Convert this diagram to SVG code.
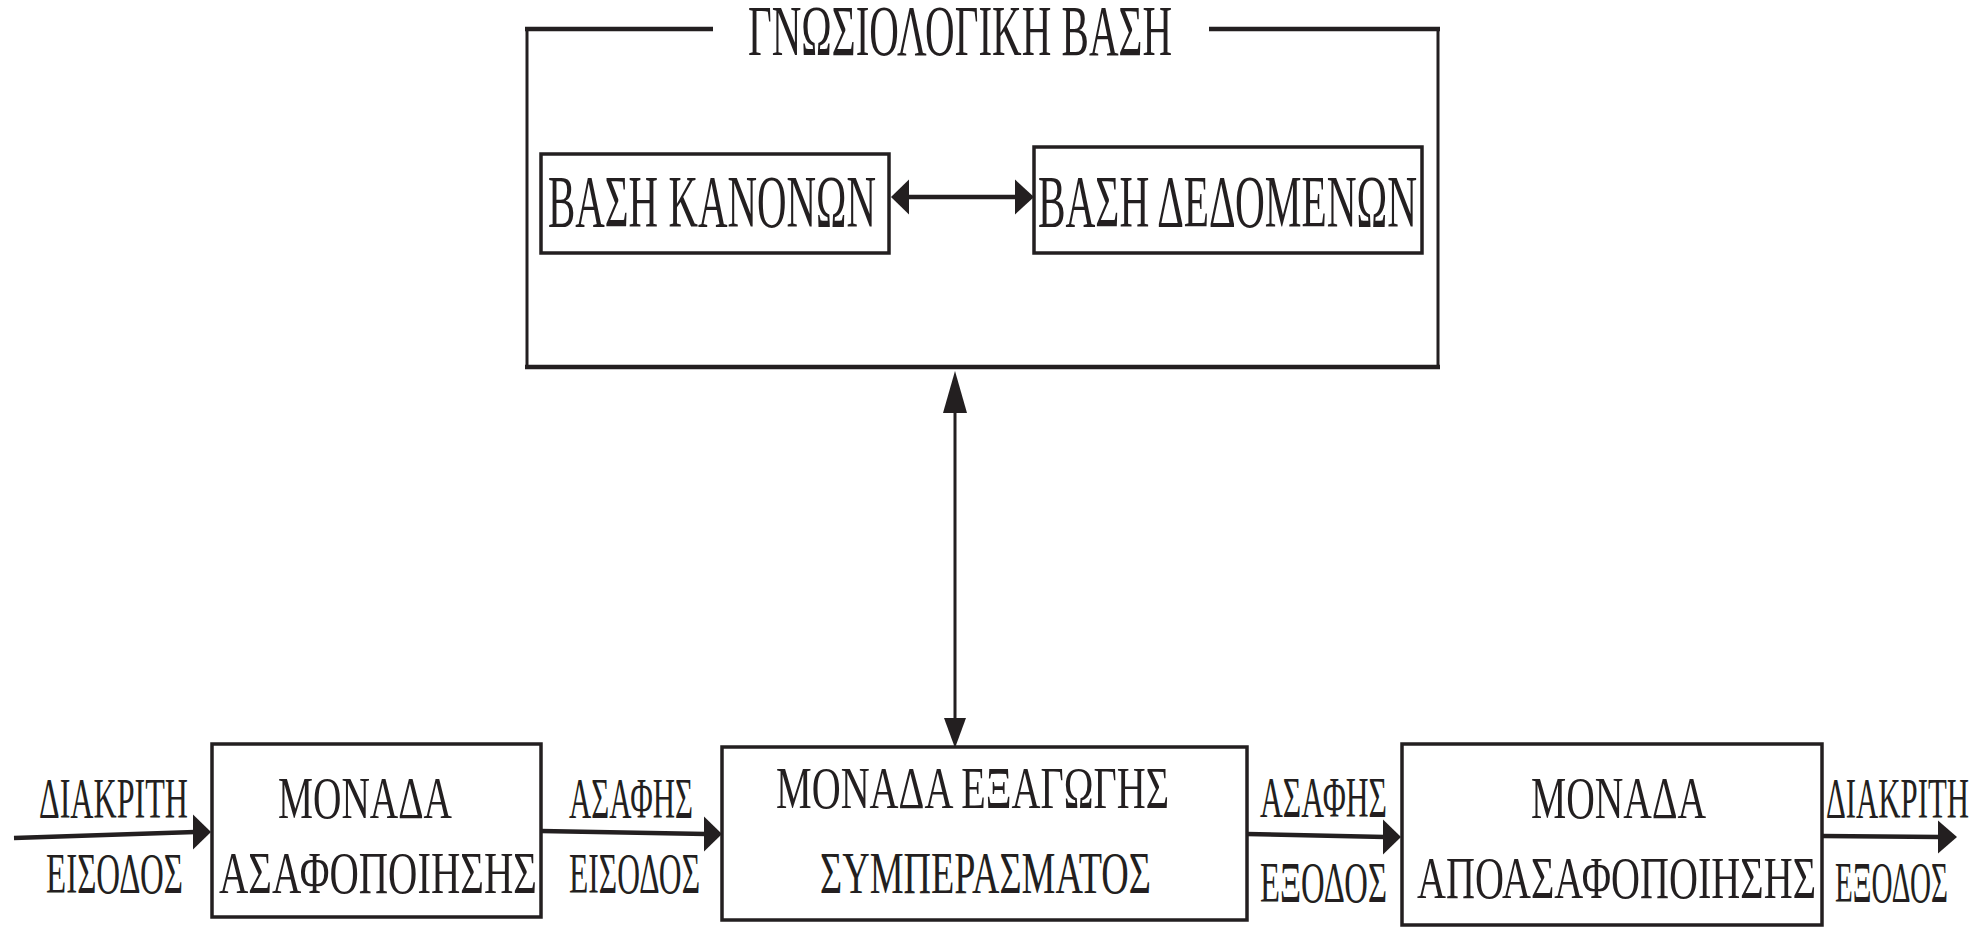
<svg xmlns="http://www.w3.org/2000/svg" width="1988" height="928" viewBox="0 0 1988 928">
<style>
.bg{fill:#ffffff}
.box{fill:none;stroke:#231f20;stroke-width:3.5}
.ln{fill:none;stroke:#231f20;stroke-width:4.5;stroke-linecap:butt}
.vl{fill:none;stroke:#231f20;stroke-width:3}
.hd{fill:#231f20;stroke:none}
text{font-family:"Liberation Serif","DejaVu Serif",serif;fill:#231f20}
.t1{font-size:72px}
.t2{font-size:75px}
.t3{font-size:59px}
.t4{font-size:56px}
</style>
<rect class="bg" x="0" y="0" width="1988" height="928"/>
<g id="knowledge-base">
<path class="vl" d="M527,29 V368 M1438,29 V368"/>
<path class="ln" d="M713,29 H525 M1209,29 H1440 M525,367 H1440"/>
<text class="t1" x="748" y="55" textLength="424" lengthAdjust="spacingAndGlyphs">ΓΝΩΣΙΟΛΟΓΙΚΗ  ΒΑΣΗ</text>
</g>
<g id="rule-base">
<rect class="box" x="541" y="154" width="348" height="99"/>
<text class="t2" x="548" y="227" textLength="328" lengthAdjust="spacingAndGlyphs">ΒΑΣΗ  ΚΑΝΟΝΩΝ</text>
</g>
<g id="data-base">
<rect class="box" x="1034" y="147" width="388" height="106"/>
<text class="t2" x="1038" y="227" textLength="379" lengthAdjust="spacingAndGlyphs">ΒΑΣΗ  ΔΕΔΟΜΕΝΩΝ</text>
</g>
<g id="fuzzification">
<rect class="box" x="212" y="744" width="329" height="173"/>
<text class="t3" x="278" y="818" textLength="174" lengthAdjust="spacingAndGlyphs">ΜΟΝΑΔΑ</text>
<text class="t3" x="219" y="893" textLength="318" lengthAdjust="spacingAndGlyphs">ΑΣΑΦΟΠΟΙΗΣΗΣ</text>
</g>
<g id="inference">
<rect class="box" x="722" y="747" width="525" height="173"/>
<text class="t3" x="776" y="808" textLength="393" lengthAdjust="spacingAndGlyphs">ΜΟΝΑΔΑ ΕΞΑΓΩΓΗΣ</text>
<text class="t3" x="820" y="893" textLength="331" lengthAdjust="spacingAndGlyphs">ΣΥΜΠΕΡΑΣΜΑΤΟΣ</text>
</g>
<g id="defuzzification">
<rect class="box" x="1402" y="744" width="420" height="181"/>
<text class="t3" x="1531" y="818" textLength="175" lengthAdjust="spacingAndGlyphs">ΜΟΝΑΔΑ</text>
<text class="t3" x="1417" y="898" textLength="399" lengthAdjust="spacingAndGlyphs">ΑΠΟΑΣΑΦΟΠΟΙΗΣΗΣ</text>
</g>
<g id="connectors">
<line class="ln" x1="906" y1="197" x2="1017" y2="197"/>
<polygon class="hd" points="891,197 909,179.5 909,214.5"/>
<polygon class="hd" points="1034,197 1015,179.5 1015,214.5"/>
<line class="vl" x1="955" y1="410" x2="955" y2="720"/>
<polygon class="hd" points="955,371 943,413 967,413"/>
<polygon class="hd" points="955,748 944,718 966,718"/>
<line class="ln" x1="14" y1="838" x2="195" y2="832"/>
<polygon class="hd" points="211,832 193,814.5 193,849.5"/>
<line class="ln" x1="541" y1="831" x2="706" y2="834"/>
<polygon class="hd" points="722,834 704,816.5 704,851.5"/>
<line class="ln" x1="1247" y1="834" x2="1385" y2="837"/>
<polygon class="hd" points="1401,837 1383,819.5 1383,854.5"/>
<line class="ln" x1="1822" y1="836" x2="1940" y2="837"/>
<polygon class="hd" points="1957,837 1938,820.5 1938,853.5"/>
</g>
<g id="labels">
<text class="t4" x="39" y="818" textLength="149" lengthAdjust="spacingAndGlyphs">ΔΙΑΚΡΙΤΗ</text>
<text class="t4" x="46" y="893" textLength="137" lengthAdjust="spacingAndGlyphs">ΕΙΣΟΔΟΣ</text>
<text class="t4" x="569" y="818" textLength="124" lengthAdjust="spacingAndGlyphs">ΑΣΑΦΗΣ</text>
<text class="t4" x="569" y="893" textLength="131" lengthAdjust="spacingAndGlyphs">ΕΙΣΟΔΟΣ</text>
<text class="t4" x="1260" y="817" textLength="127" lengthAdjust="spacingAndGlyphs">ΑΣΑΦΗΣ</text>
<text class="t4" x="1260" y="902" textLength="127" lengthAdjust="spacingAndGlyphs">ΕΞΟΔΟΣ</text>
<text class="t4" x="1826" y="818" textLength="143" lengthAdjust="spacingAndGlyphs">ΔΙΑΚΡΙΤΗ</text>
<text class="t4" x="1835" y="902" textLength="113" lengthAdjust="spacingAndGlyphs">ΕΞΟΔΟΣ</text>
</g>
</svg>
